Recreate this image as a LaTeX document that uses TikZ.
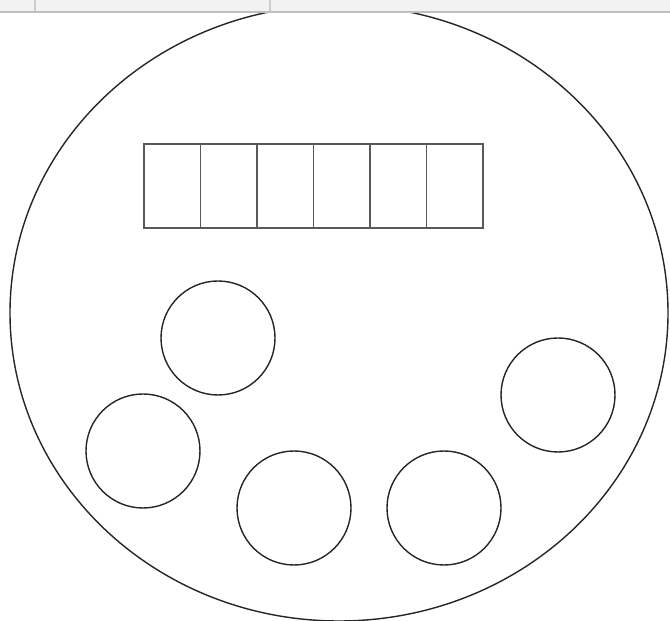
\documentclass[tikz,border=0pt]{standalone}
\usepackage{tikz}
\usetikzlibrary{shapes.geometric, positioning}

\begin{document}
\begin{tikzpicture}[
                outline/.style={ellipse, draw=black!85, line width=0.8pt, minimum width=13.16cm, minimum height=12.32cm, inner sep=0pt},
                cell/.style={rectangle, draw=black!65, line width=0.9pt, minimum width=1.13cm, minimum height=1.68cm, inner sep=0pt, outer sep=0pt},
                knob/.style={circle, draw=black!85, line width=0.8pt, minimum size=2.28cm, inner sep=0pt},
                bar/.style={fill=black!5, draw=none},
                barline/.style={draw=black!20, line width=0.9pt}
            ]%
            \useasboundingbox (0,0) rectangle (13.4,12.42);
            %
            % Contorno
            \node[outline] (body) at (6.78,6.16) {};
            %
            % Celdas
            \node[cell] (cell1) at (3.445,8.70) {};
            \node[cell, right=0pt of cell1] (cell2) {};
            \node[cell, right=0pt of cell2] (cell3) {};
            \node[cell, right=0pt of cell3] (cell4) {};
            \node[cell, right=0pt of cell4] (cell5) {};
            \node[cell, right=0pt of cell5] (cell6) {};
            %
            % Perillas
            \node[knob] (knobA) at (4.36,5.66) {};
            \node[knob] (knobB) at (2.86,3.40) {};
            \node[knob] (knobC) at (5.88,2.26) {};
            \node[knob] (knobD) at (8.88,2.26) {};
            \node[knob] (knobE) at (11.16,4.52) {};
            %
            % Barra superior
            \path[bar] (0,12.18) rectangle (13.4,12.42);
            \draw[barline] (0.70,12.18) -- (0.70,12.42);
            \draw[barline] (5.40,12.18) -- (5.40,12.42);
            \draw[draw=black!25, line width=0.6pt] (0,12.18) -- (13.4,12.18);
        \end{tikzpicture}
\end{document}
